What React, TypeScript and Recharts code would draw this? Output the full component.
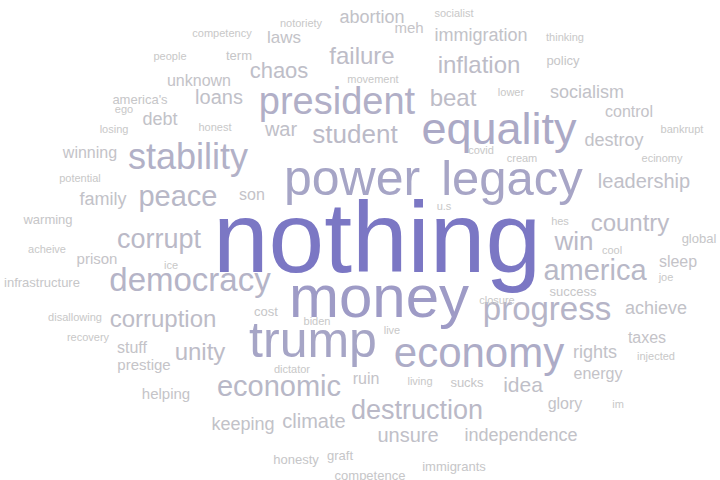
import { ScatterChart, Scatter, XAxis, YAxis } from 'recharts';

// word cloud: each word placed at (x, y) in a 720x480 space, weight drives size and colour
const words = [
  'nothing', 'money', 'power', 'legacy', 'trump', 'equality', 'economy', 'president', 'stability', 'democracy',
  'progress', 'america', 'economic', 'peace', 'corrupt', 'destruction', 'student', 'win', 'country', 'failure',
  'inflation', 'beat', 'corruption', 'unity', 'chaos', 'war', 'climate', 'unsure', 'leadership', 'loans',
  'idea', 'abortion', 'immigration', 'socialism', 'destroy', 'family', 'debt', 'keeping', 'independence', 'rights',
  'achieve', 'laws', 'unknown', 'winning', 'son', 'control', 'ruin', 'glory', 'energy', 'taxes',
  'sleep', 'stuff', 'prison', 'meh', 'helping', 'prestige', 'term', "america's", 'policy', 'warming',
  'infrastructure', 'success', 'global', 'cost', 'sucks', 'honesty', 'graft', 'immigrants', 'competence', 'competency',
  'people', 'ego', 'losing', 'honest', 'notoriety', 'socialist', 'movement', 'thinking', 'lower', 'bankrupt',
  'ecinomy', 'cream', 'covid', 'u.s', 'potential', 'acheive', 'ice', 'joe', 'cool', 'hes',
  'closure', 'live', 'biden', 'dictator', 'living', 'injected', 'im', 'recovery', 'disallowing',
];

const xPos = [
  377, 379, 352, 512, 313, 499, 479, 337, 188, 190,
  547, 595, 279, 178, 159, 417, 355, 574, 630, 362,
  479, 453, 163, 200, 279, 281, 314, 408, 644, 219,
  523, 372, 481, 587, 614, 103, 160, 243, 521, 595,
  656, 284, 199, 90, 252, 629, 366, 565, 598, 647,
  678, 132, 97, 409, 166, 144, 239, 140, 563, 48,
  42, 573, 699, 266, 467, 296, 340, 454, 370, 222,
  170, 124, 114, 215, 301, 454, 373, 565, 511, 682,
  662, 522, 481, 444, 80, 47, 171, 666, 612, 560,
  497, 392, 317, 292, 420, 656, 618, 88, 75,
];

const yPos = [
  275, 321, 197, 197, 361, 146, 372, 115, 171, 295,
  324, 284, 401, 209, 251, 424, 145, 253, 234, 65,
  74, 107, 331, 365, 79, 138, 433, 448, 190, 105,
  397, 23, 42, 99, 148, 208, 127, 435, 447, 362,
  318, 44, 87, 160, 202, 118, 389, 414, 384, 347,
  270, 357, 267, 33, 404, 375, 61, 105, 66, 227,
  291, 300, 246, 320, 392, 470, 466, 477, 486, 37,
  61, 114, 135, 133, 27, 17, 84, 42, 97, 135,
  164, 164, 156, 213, 184, 256, 272, 285, 257, 228,
  308, 338, 329, 378, 390, 365, 413, 345, 325,
];

const weights = [
  100, 60, 50, 49, 50, 45, 42, 38, 36, 33,
  33, 29, 29, 29, 27, 27, 26, 26, 24, 24,
  24, 24, 24, 24, 22, 20, 20, 20, 20, 20,
  21, 18, 18, 18, 18, 18, 18, 18, 18, 18,
  18, 17, 16, 16, 16, 16, 16, 16, 16, 16,
  16, 16, 15, 15, 15, 15, 13, 13, 13, 13,
  13, 13, 13, 13, 13, 13, 13, 13, 13, 11,
  11, 11, 11, 11, 11, 11, 11, 11, 11, 11,
  11, 11, 11, 11, 11, 11, 11, 11, 11, 11,
  11, 11, 11, 11, 11, 11, 11, 11, 11,
];

const data = words.map((word, i) => ({ word, x: xPos[i], y: yPos[i], weight: weights[i] }));

const minW = Math.min(...weights);
const maxW = Math.max(...weights);

function wordColor(w: number) {
  const t = (w - minW) / (maxW - minW);
  const lo = [200, 200, 200];
  const hi = [123, 119, 196];
  const c = lo.map((v, k) => Math.round(v + (hi[k] - v) * t));
  return `rgb(${c[0]},${c[1]},${c[2]})`;
}

function Word(props: any) {
  const { cx, cy, payload } = props;
  return (
    <text
      x={cx}
      y={cy}
      textAnchor="middle"
      fontSize={payload.weight}
      fontFamily="'Liberation Sans', Arial, sans-serif"
      fill={wordColor(payload.weight)}
    >
      {payload.word}
    </text>
  );
}

export default function App() {
  // slight opacity keeps text on grayscale antialiasing (no colour fringes)
  return (
    <div style={{ position: 'absolute', left: 0, top: 0, opacity: 0.999 }}>
      <ScatterChart width={720} height={480} margin={{ top: 0, right: 0, bottom: 0, left: 0 }}>
        <XAxis type="number" dataKey="x" domain={[0, 720]} hide />
        <YAxis type="number" dataKey="y" domain={[0, 480]} reversed hide />
        <Scatter data={data} shape={Word} isAnimationActive={false} />
      </ScatterChart>
    </div>
  );
}
